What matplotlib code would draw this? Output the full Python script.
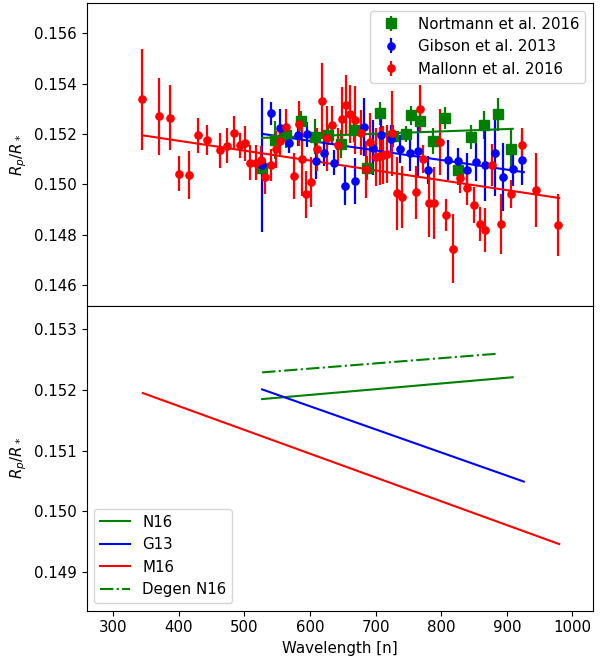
import matplotlib
matplotlib.use("Agg")
import matplotlib.pyplot as plt
import numpy as np

plt.rcParams["font.size"] = 10.8

# Mallonn et al. 2016
m16_wl = [344, 370, 386, 400, 415, 429, 443, 463, 473, 484, 493, 501, 509, 517, 525,
          532, 541, 548, 555, 564, 575, 583, 588, 594, 602, 610, 618, 626, 634, 642,
          649, 655, 661, 669, 677, 686, 692, 700, 706, 712, 717, 725, 732, 741, 761,
          768, 773, 781, 789, 798, 807, 818, 828, 839, 850, 859, 867, 878, 891, 906,
          924, 945, 978]
m16_rp = [0.15338, 0.15270, 0.15265, 0.15043, 0.15036, 0.15195, 0.15175, 0.15135,
          0.15154, 0.15203, 0.15156, 0.15163, 0.15087, 0.15087, 0.15096, 0.15030,
          0.15077, 0.15139, 0.15172, 0.15229, 0.15034, 0.15241, 0.15100, 0.14960,
          0.15010, 0.15139, 0.15331, 0.15183, 0.15236, 0.15155, 0.15262, 0.15315,
          0.15281, 0.15256, 0.15206, 0.15060, 0.15168, 0.15110, 0.15113, 0.15116,
          0.15120, 0.15203, 0.14965, 0.14950, 0.14968, 0.15301, 0.15102, 0.14925,
          0.14927, 0.15168, 0.14878, 0.14745, 0.15027, 0.14986, 0.14918, 0.14842,
          0.14820, 0.15076, 0.14842, 0.14961, 0.15156, 0.14977, 0.14840]
m16_err = [0.0020, 0.00154, 0.0013, 0.00071, 0.00095, 0.00069, 0.0006, 0.0007,
           0.0007, 0.00067, 0.0005, 0.0007, 0.00068, 0.00068, 0.00055, 0.0007,
           0.00065, 0.00073, 0.0006, 0.0007, 0.0009, 0.0009, 0.00145, 0.00095,
           0.0010, 0.00087, 0.0015, 0.0013, 0.00075, 0.0007, 0.00124, 0.0012,
           0.00115, 0.00135, 0.0009, 0.00113, 0.00115, 0.00115, 0.00115, 0.00115,
           0.00115, 0.0017, 0.00145, 0.00122, 0.00107, 0.00095, 0.00056, 0.00135,
           0.00143, 0.0013, 0.00065, 0.00137, 0.00063, 0.00067, 0.0007, 0.00068,
           0.00088, 0.00083, 0.0012, 0.00056, 0.0007, 0.00147, 0.00123]

# Gibson et al. 2013
g13_wl = [527, 540, 554, 568, 582, 595, 609, 622, 636, 654, 668, 682, 696, 709,
          724, 737, 752, 765, 780, 811, 825, 839, 853, 867, 882, 895, 909, 924]
g13_rp = [0.15076, 0.15282, 0.15223, 0.15163, 0.15195, 0.15199, 0.15093, 0.15123,
          0.15087, 0.14995, 0.15014, 0.15228, 0.15146, 0.15195, 0.15179, 0.15142,
          0.15123, 0.15133, 0.15057, 0.15096, 0.15093, 0.15056, 0.15090, 0.15077,
          0.15126, 0.15031, 0.15063, 0.15097]
g13_err = [0.00266, 0.00047, 0.00077, 0.0004, 0.00043, 0.0005, 0.0007, 0.0005,
           0.0005, 0.00076, 0.0009, 0.00115, 0.0011, 0.00095, 0.00056, 0.00056,
           0.0007, 0.001, 0.00056, 0.0008, 0.0005, 0.00067, 0.00075, 0.00143,
           0.0017, 0.00135, 0.0007, 0.001]

# Nortmann et al. 2016
n16_wl = [527, 546, 564, 587, 607, 627, 647, 667, 687, 707, 726, 747, 754, 767,
          787, 806, 826, 846, 866, 887, 906]
n16_rp = [0.15067, 0.15176, 0.15195, 0.15252, 0.15190, 0.15196, 0.15162, 0.15216,
          0.15065, 0.15282, 0.15192, 0.15199, 0.15274, 0.15253, 0.15173, 0.15263,
          0.15058, 0.15188, 0.15236, 0.15278, 0.15142]
n16_err = [0.0004, 0.00075, 0.0005, 0.0004, 0.0007, 0.0004, 0.00055, 0.00047,
           0.00047, 0.00044, 0.00044, 0.00032, 0.00036, 0.00032, 0.00053, 0.00044,
           0.0006, 0.00047, 0.00056, 0.00067, 0.00083]

# linear fits: (wl_start, wl_end), (rp_start, rp_end)
fit_n16 = ([527, 909], [0.15185, 0.15221])
fit_g13 = ([527, 926], [0.15201, 0.15049])
fit_m16 = ([345, 980], [0.15195, 0.14946])
fit_degen = ([527, 888], [0.15229, 0.15260])

fig = plt.figure(figsize=(6.07, 6.57), dpi=100)
ax1 = fig.add_axes([0.1428, 0.5342, 0.8336, 0.4612])
ax2 = fig.add_axes([0.1428, 0.0705, 0.8336, 0.4637], sharex=ax1)

ax1.errorbar(n16_wl, n16_rp, yerr=n16_err, fmt="s", color="green", ms=6.5,
             elinewidth=1.6, label="Nortmann et al. 2016")
ax1.errorbar(g13_wl, g13_rp, yerr=g13_err, fmt="o", color="blue", ms=5.2,
             elinewidth=1.6, label="Gibson et al. 2013")
ax1.errorbar(m16_wl, m16_rp, yerr=m16_err, fmt="o", color="red", ms=5.2,
             elinewidth=1.6, label="Mallonn et al. 2016")
ax1.plot(*fit_n16, color="green")
ax1.plot(*fit_g13, color="blue")
ax1.plot(*fit_m16, color="red")
ax1.set_ylim(0.145167, 0.15721)
ax1.set_yticks(np.arange(0.146, 0.1565, 0.002))
ax1.set_ylabel(r"$R_p/R_*$")
ax1.tick_params(labelbottom=False)
ax1.legend(loc="upper right")

ax2.plot(*fit_n16, color="green", label="N16")
ax2.plot(*fit_g13, color="blue", label="G13")
ax2.plot(*fit_m16, color="red", label="M16")
ax2.plot(*fit_degen, color="green", ls="-.", label="Degen N16")
ax2.set_ylim(0.148362, 0.153384)
ax2.set_yticks([0.149, 0.150, 0.151, 0.152, 0.153])
ax2.set_xlim(259.5, 1031)
ax2.set_xticks([300, 400, 500, 600, 700, 800, 900, 1000])
ax2.set_xlabel("Wavelength [n]")
ax2.set_ylabel(r"$R_p/R_*$")
ax2.legend(loc="lower left")

fig.savefig("out.png", dpi=100)
